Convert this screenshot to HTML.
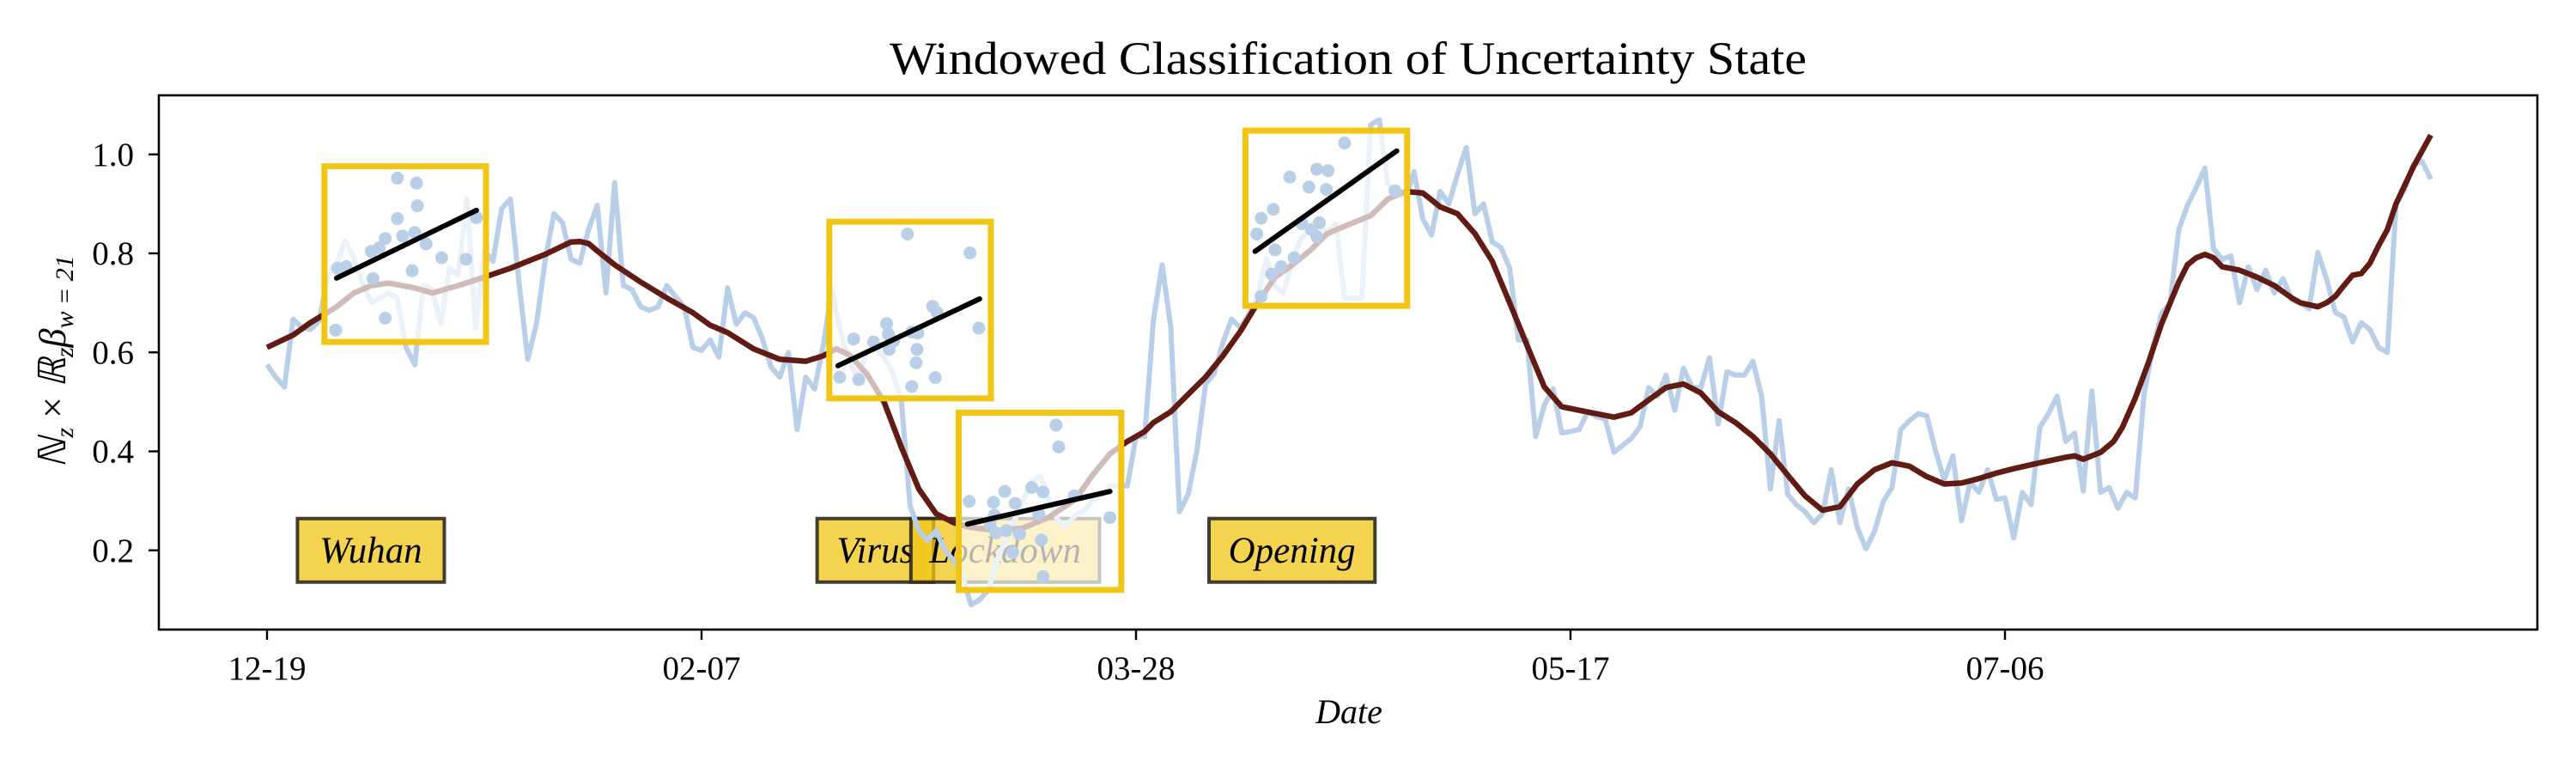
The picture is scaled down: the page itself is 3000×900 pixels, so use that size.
<!DOCTYPE html>
<html><head><meta charset="utf-8"><style>
html,body{margin:0;padding:0;background:#fff;}
svg{display:block;}
</style></head><body>
<svg id="chart" width="3000" height="900" viewBox="0 0 3000 900" xmlns="http://www.w3.org/2000/svg" font-family="'Liberation Serif', serif">
<rect x="0" y="0" width="3000" height="900" fill="#fff"/>
<text x="1570" y="86" text-anchor="middle" font-size="54" textLength="1068" lengthAdjust="spacingAndGlyphs">Windowed Classification of Uncertainty State</text>
<g id="labels"></g>
<g id="series"></g>
<g id="windows"></g>
<g id="axes"></g>
<text x="1571" y="842" text-anchor="middle" font-size="40" font-style="italic">Date</text>
<text transform="translate(76,421) rotate(-90)" text-anchor="middle" font-size="44" font-style="italic">ℕ<tspan font-size="30" dy="9">z</tspan><tspan dy="-9" font-style="normal">  ×  </tspan>ℝ<tspan font-size="30" dy="9">z</tspan><tspan dy="-9">β</tspan><tspan font-size="30" dy="9">w = 21</tspan></text>
</svg>
<script>
const tickLabels = ["12-19","02-07","03-28","05-17","07-06"];
const tickDays = [0,50,100,150,200];
const yTicks = [0.2,0.4,0.6,0.8,1.0];
const blueDays = [0,1,2,3,4,5,6,7,8,9,10,11,12,13,14,15,16,17,18,19,20,21,22,23,24,25,26,27,28,29,30,31,32,33,34,35,36,37,38,39,40,41,42,43,44,45,46,47,48,49,50,51,52,53,54,55,56,57,58,59,60,61,62,63,64,65,66,67,68,69,70,71,72,73,74,75,76,77,78,79,80,81,82,83,84,85,86,87,88,89,90,91,92,93,94,95,96,97,98,99,100,101,102,103,104,105,106,107,108,109,110,111,112,113,114,115,116,117,118,119,120,121,122,123,124,125,126,127,128,129,130,131,132,133,134,135,136,137,138,139,140,141,142,143,144,145,146,147,148,149,150,151,152,153,154,155,156,157,158,159,160,161,162,163,164,165,166,167,168,169,170,171,172,173,174,175,176,177,178,179,180,181,182,183,184,185,186,187,188,189,190,191,192,193,194,195,196,197,198,199,200,201,202,203,204,205,206,207,208,209,210,211,212,213,214,215,216,217,218,219,220,221,222,223,224,225,226,227,228,229,230,231,232,233,234,235,236,237,238,239,240,241,242,243,244,245,246,247,248,249];
const blueVals = [0.575,0.55,0.53,0.667,0.65,0.646,0.664,0.755,0.777,0.826,0.79,0.74,0.70,0.71,0.72,0.71,0.61,0.575,0.735,0.727,0.657,0.77,0.756,0.91,0.65,0.805,0.784,0.89,0.91,0.74,0.586,0.657,0.784,0.88,0.862,0.788,0.78,0.848,0.897,0.72,0.943,0.735,0.727,0.692,0.685,0.692,0.735,0.713,0.692,0.61,0.604,0.625,0.59,0.73,0.657,0.68,0.67,0.628,0.57,0.55,0.60,0.444,0.55,0.526,0.614,0.727,0.642,0.58,0.55,0.60,0.61,0.59,0.56,0.50,0.29,0.24,0.22,0.24,0.20,0.18,0.15,0.09,0.10,0.12,0.18,0.22,0.26,0.30,0.34,0.35,0.30,0.26,0.25,0.27,0.28,0.30,0.31,0.33,0.33,0.33,0.43,0.43,0.664,0.777,0.65,0.278,0.313,0.40,0.536,0.557,0.62,0.667,0.65,0.677,0.713,0.79,0.734,0.72,0.79,0.83,0.85,0.86,0.84,0.86,0.71,0.71,0.71,1.06,1.07,0.94,0.925,0.91,0.965,0.87,0.837,0.925,0.90,0.96,1.014,0.88,0.90,0.823,0.812,0.77,0.625,0.625,0.43,0.494,0.526,0.437,0.44,0.444,0.48,0.47,0.465,0.398,0.412,0.426,0.45,0.529,0.511,0.554,0.483,0.568,0.529,0.529,0.589,0.455,0.561,0.554,0.554,0.582,0.511,0.324,0.462,0.313,0.292,0.278,0.256,0.274,0.363,0.256,0.324,0.246,0.203,0.239,0.299,0.327,0.444,0.462,0.476,0.472,0.402,0.342,0.391,0.26,0.338,0.317,0.363,0.303,0.306,0.225,0.317,0.292,0.448,0.476,0.511,0.42,0.437,0.32,0.522,0.317,0.327,0.285,0.317,0.306,0.515,0.607,0.678,0.70,0.848,0.897,0.933,0.972,0.809,0.788,0.795,0.70,0.773,0.727,0.766,0.72,0.749,0.706,0.70,0.688,0.802,0.749,0.681,0.671,0.621,0.66,0.646,0.61,0.60,0.90,0.929,0.979,0.986,0.95,0.961];
const trendDays = [0,3,5,8,10,12,14,17,19,22,25,28,30,32,34,35,36,37,38,40,43,46,49,51,53,56,59,62,64,65.5,67,69,71,73,75,77,79,81,84,87,90,93,95,97,99,101,102,104,106,108,110,112,114,116,118,120,122,125,127,129,131,133,135,137,139,141,143,145,147,149,151,153,155,157,159,161,163,165,167,169,171,173,175,177,179,181,183,185,187,189,191,193,195,197,199,201,204,207,208,209,211,212.5,213.5,215,216.5,218,220,221,222,223,224,225,227,229,231,233,234,236,237,238,239,240,241,242,243,244,245,247,249];
const trendVals = [0.61,0.635,0.66,0.692,0.72,0.735,0.74,0.73,0.72,0.735,0.752,0.77,0.784,0.798,0.815,0.823,0.824,0.82,0.805,0.777,0.742,0.71,0.68,0.655,0.64,0.607,0.586,0.582,0.593,0.607,0.595,0.557,0.5,0.408,0.324,0.274,0.256,0.246,0.24,0.245,0.267,0.303,0.352,0.395,0.42,0.44,0.458,0.48,0.515,0.55,0.593,0.642,0.70,0.752,0.777,0.805,0.84,0.862,0.876,0.91,0.925,0.922,0.894,0.88,0.84,0.784,0.70,0.614,0.53,0.49,0.483,0.476,0.469,0.478,0.504,0.529,0.536,0.518,0.48,0.458,0.43,0.395,0.352,0.31,0.281,0.288,0.334,0.363,0.377,0.37,0.349,0.334,0.336,0.345,0.356,0.365,0.377,0.388,0.391,0.384,0.398,0.42,0.448,0.508,0.579,0.657,0.742,0.777,0.791,0.798,0.791,0.773,0.766,0.752,0.735,0.71,0.70,0.692,0.70,0.713,0.735,0.756,0.759,0.78,0.816,0.848,0.9,0.975,1.039];
const winNames = ["wuhan","virus","lockdown","opening"];
const winStartDay = [6.6,64.7,79.6,112.6];
const winEndDay = [25.2,83.3,98.3,131.2];
const winTopVal = [0.976,0.864,0.478,1.048];
const winBotVal = [0.621,0.507,0.120,0.694];
const fitStartDay = [8.0,65.7,80.6,113.7];
const fitStartVal = [0.750,0.573,0.253,0.804];
const fitEndDay = [24.1,82.0,97.0,130.0];
const fitEndVal = [0.887,0.708,0.319,1.007];
const dotDays = [
 [15.0,17.2,17.3,15.0,13.6,15.6,17.0,18.3,12.0,12.9,8.1,9.1,12.2,16.7,20.1,22.9,13.6,7.9,24.1],
 [73.7,80.9,76.6,77.1,71.3,67.5,69.8,71.5,74.2,74.9,72.1,71.6,74.8,74.7,65.9,68.1,76.9,74.2,81.9],
 [90.8,91.1,80.8,83.6,84.9,86.1,88.0,89.3,92.9,83.2,83.9,85.1,86.6,88.8,89.1,85.8,89.3,97.0,83.7],
 [124.0,120.8,122.1,117.7,119.9,121.9,115.8,114.4,113.9,119.1,121.1,120.2,120.8,116.0,118.2,116.7,115.6,114.4,129.8]];
const dotVals = [
 [0.952,0.942,0.896,0.870,0.830,0.835,0.842,0.819,0.804,0.811,0.770,0.773,0.749,0.765,0.791,0.788,0.669,0.645,0.872],
 [0.839,0.801,0.693,0.681,0.658,0.627,0.621,0.637,0.641,0.639,0.623,0.606,0.606,0.579,0.550,0.545,0.549,0.531,0.649],
 [0.453,0.409,0.299,0.297,0.319,0.295,0.327,0.318,0.310,0.253,0.235,0.240,0.233,0.274,0.221,0.196,0.147,0.266,0.271],
 [1.023,0.970,0.967,0.954,0.934,0.929,0.889,0.871,0.839,0.860,0.862,0.848,0.834,0.807,0.791,0.773,0.758,0.713,0.926]];
const labelTexts = ["Wuhan","Virus","Lockdown","Opening"];
const labelStartDay = [3.5,63.3,74.1,108.4];
const labelEndDay = [20.4,76.7,95.8,127.5];
const labelVal = 0.2;

const NS="http://www.w3.org/2000/svg";
const L=185,R=2955,T=111,B=733;
function xs(d){return 311 + d*10.12;}
function ys(v){return 756 - v*576.25;}
function mk(tag,attrs,parent){const e=document.createElementNS(NS,tag);for(const k in attrs)e.setAttribute(k,attrs[k]);parent.appendChild(e);return e;}
const labelsG=document.getElementById('labels'),seriesG=document.getElementById('series'),winG=document.getElementById('windows'),axesG=document.getElementById('axes');

for(let i=0;i<labelTexts.length;i++){
  const x0=xs(labelStartDay[i]),x1=xs(labelEndDay[i]),yc=ys(labelVal);
  const r=mk('rect',{x:x0,y:yc-37,width:x1-x0,height:74,fill:'#f0c514','fill-opacity':0.75,stroke:'#2e2a20','stroke-opacity':0.9,'stroke-width':4},labelsG);
  
  
  const t=mk('text',{x:(x0+x1)/2,y:yc+14,'text-anchor':'middle','font-size':43,'font-style':'italic'},labelsG);
  t.textContent=labelTexts[i];
  
  
}
let p='';
for(let i=0;i<blueDays.length;i++){p+=(i?'L':'M')+xs(blueDays[i]).toFixed(1)+','+ys(blueVals[i]).toFixed(1);}
const bl=mk('path',{d:p,fill:'none',stroke:'#b8cfe7','stroke-width':6,'stroke-linejoin':'round'},seriesG);


p='';
for(let i=0;i<trendDays.length;i++){p+=(i?'L':'M')+xs(trendDays[i]).toFixed(1)+','+ys(trendVals[i]).toFixed(1);}
const rl=mk('path',{d:p,fill:'none',stroke:'#621b12','stroke-width':6.5,'stroke-linejoin':'round'},seriesG);


for(let w=0;w<winNames.length;w++){
  const x0=xs(winStartDay[w]),x1=xs(winEndDay[w]),y0=ys(winTopVal[w]),y1=ys(winBotVal[w]);
  const r=mk('rect',{x:x0,y:y0,width:x1-x0,height:y1-y0,fill:'#fff','fill-opacity':0.7,stroke:'#f0c514','stroke-width':7},winG);
  
  
  for(let j=0;j<dotDays[w].length;j++){
    const c=mk('circle',{cx:xs(dotDays[w][j]),cy:ys(dotVals[w][j]),r:7.5,fill:'#b8cfe7'},winG);
    
    
  }
  const ln=mk('line',{x1:xs(fitStartDay[w]),y1:ys(fitStartVal[w]),x2:xs(fitEndDay[w]),y2:ys(fitEndVal[w]),stroke:'#000','stroke-width':6,'stroke-linecap':'round'},winG);
  
  
}
const fr=mk('rect',{x:L,y:T,width:R-L,height:B-T,fill:'none',stroke:'#000','stroke-width':2.6},axesG);


for(let i=0;i<yTicks.length;i++){
  const y=ys(yTicks[i]);
  const tk=mk('line',{x1:L-12,y1:y,x2:L,y2:y,stroke:'#000','stroke-width':2.4},axesG);
  
  
  const t=mk('text',{x:L-29,y:y+13,'text-anchor':'end','font-size':39},axesG);
  t.textContent=yTicks[i].toFixed(1);
  
  
}
for(let i=0;i<tickDays.length;i++){
  const x=xs(tickDays[i]);
  const tk=mk('line',{x1:x,y1:B,x2:x,y2:B+12,stroke:'#000','stroke-width':2.4},axesG);
  
  
  const t=mk('text',{x:x,y:B+58,'text-anchor':'middle','font-size':39},axesG);
  t.textContent=tickLabels[i];
  
  
}
</script>
</body></html>
